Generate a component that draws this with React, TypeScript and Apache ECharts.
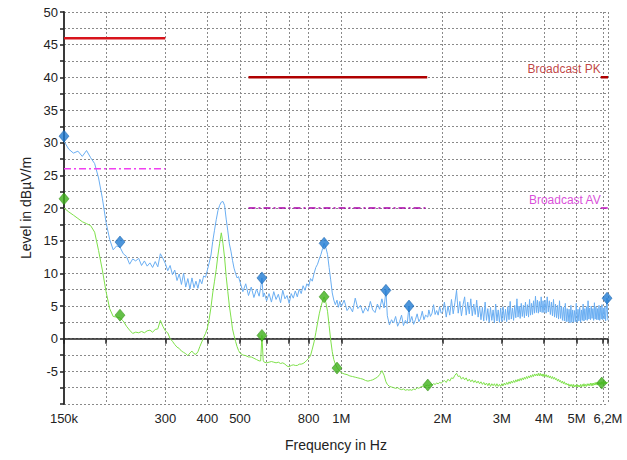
import React, { useEffect, useRef } from 'react';
import * as echarts from 'echarts';

// Frequency axis (kHz)
const tickFreqs = [150, 200, 300, 400, 500, 600, 700, 800, 1000, 2000, 3000, 4000, 5000, 6000, 6200];
const labelFreqs = [150, 300, 400, 500, 800, 1000, 2000, 3000, 4000, 5000, 6200];
const labelTexts = ['150k', '300', '400', '500', '800', '1M', '2M', '3M', '4M', '5M', '6,2M'];

// Scan: [frequency kHz, peak dBµV/m, average dBµV/m]
const scanLW = [
  [150, 30.2, 20.0], [155, 29.0, 19.4], [160, 28.4, 18.9], [165, 28.7, 18.4], [170, 27.9, 17.9],
  [175, 28.8, 17.6], [180, 27.7, 17.3], [185, 26.8, 16.3], [190, 24.6, 13.5], [195, 21.5, 10.5],
  [200, 17.8, 7.2], [205, 15.2, 4.6], [210, 13.6, 3.4], [215, 14.2, 3.3], [220, 14.0, 3.2],
  [225, 13.0, 2.7], [230, 12.6, 1.9], [235, 11.4, 1.3], [240, 12.2, 0.8], [245, 11.9, 1.0],
  [250, 12.3, 0.9], [255, 11.2, 1.1], [260, 11.9, 0.9], [265, 11.1, 1.2], [270, 11.6, 1.3],
  [275, 10.9, 1.0], [280, 11.8, 1.4], [285, 11.0, 1.5], [290, 13.0, 2.8], [295, 12.3, 1.9],
  [300, 11.5, 1.2], [305, 10.4, 0.9], [310, 11.2, 0.0], [315, 9.8, -0.4], [320, 10.5, -0.9],
  [325, 8.9, -1.3], [330, 9.9, -1.5], [335, 8.3, -1.9], [340, 10.0, -2.1], [345, 7.9, -2.3],
  [350, 9.2, -2.6], [355, 7.6, -2.2], [360, 9.3, -1.9], [365, 7.8, -2.3], [370, 8.8, -2.4],
  [375, 7.7, -2.0], [380, 9.1, -1.2], [385, 8.4, -0.5], [390, 9.6, 0.2], [395, 9.4, 0.8],
  [400, 10.5, 1.6], [405, 11.6, 3.0], [410, 12.8, 4.8], [415, 14.9, 7.0], [420, 16.6, 8.8],
  [425, 18.2, 10.6], [430, 19.6, 12.8], [435, 20.4, 14.6], [440, 20.9, 16.2], [445, 21.0, 14.6],
  [450, 20.4, 12.4], [455, 18.3, 9.5], [460, 16.5, 7.2], [465, 14.5, 5.0], [470, 13.4, 3.3],
  [475, 12.0, 1.5], [480, 10.8, 0.5], [485, 10.0, -0.4], [490, 9.3, -1.2], [495, 9.5, -1.8]
];

const scanMW = [
  [500, 8.7, -2.2], [510, 7.2, -2.5], [520, 8.4, -2.6], [530, 6.6, -2.8], [540, 7.9, -2.8],
  [550, 6.3, -3.0], [560, 7.6, -3.2], [570, 6.5, -3.4], [576, 7.8, -3.4], [581, 9.3, 0.5],
  [586, 6.4, -3.3], [590, 7.0, -3.6], [600, 5.8, -3.7], [610, 6.9, -3.6], [620, 5.6, -3.5],
  [630, 7.2, -3.6], [640, 6.0, -3.7], [650, 6.8, -3.6], [660, 5.5, -3.8], [670, 7.4, -3.7],
  [680, 6.1, -3.9], [690, 6.6, -4.2], [700, 5.4, -4.3], [710, 6.9, -4.1], [720, 6.2, -4.0],
  [730, 7.3, -4.1], [740, 6.4, -4.1], [750, 7.6, -3.9], [760, 6.9, -3.9], [770, 8.1, -3.8],
  [780, 7.4, -3.6], [790, 8.4, -3.3], [800, 8.0, -3.0], [810, 9.2, -2.6], [820, 8.8, -1.6],
  [830, 10.0, -0.5], [840, 10.9, 0.9], [850, 11.4, 2.4], [860, 12.2, 3.8], [870, 12.9, 4.9],
  [880, 13.8, 5.8], [889, 14.6, 6.4], [895, 14.2, 6.0], [900, 13.9, 5.5], [910, 12.9, 4.2],
  [920, 10.9, 2.0], [930, 9.0, -0.2], [940, 7.0, -2.0], [950, 5.9, -3.2], [960, 5.2, -3.9],
  [971, 5.9, -4.4], [980, 4.8, -4.7], [990, 5.7, -5.0]
];

const scanHF1 = [
  [1000, 4.9, -5.2], [1020, 5.9, -5.4], [1040, 4.3, -5.5], [1060, 4.9, -5.7], [1080, 4.1, -5.8],
  [1100, 6.2, -5.9], [1120, 4.6, -6.0], [1140, 5.1, -6.1], [1160, 3.9, -6.2], [1180, 4.8, -6.4],
  [1200, 4.2, -6.5], [1220, 5.7, -6.4], [1240, 4.4, -6.3], [1260, 4.0, -6.1], [1280, 5.3, -5.9],
  [1300, 4.5, -5.5], [1320, 6.1, -4.9], [1340, 4.7, -5.6], [1357, 7.4, -6.6], [1370, 3.5, -7.0],
  [1390, 2.1, -7.3], [1410, 2.9, -7.4], [1430, 2.4, -7.5], [1450, 3.4, -7.6], [1470, 1.9, -7.5],
  [1490, 2.6, -7.7], [1510, 3.6, -7.8], [1530, 2.0, -7.7], [1550, 2.8, -7.9], [1570, 2.3, -7.8],
  [1589, 5.0, -7.9], [1600, 2.5, -7.8], [1620, 3.4, -7.9], [1640, 2.2, -7.7], [1660, 2.9, -7.8],
  [1680, 3.8, -7.5], [1700, 2.6, -7.6], [1720, 3.1, -7.4], [1740, 4.2, -7.3], [1760, 2.9, -7.4],
  [1780, 3.6, -7.2], [1807, 3.3, -7.1], [1820, 4.4, -7.2], [1840, 3.4, -7.0], [1860, 3.9, -7.1],
  [1880, 5.2, -6.9], [1900, 3.7, -7.0], [1920, 4.3, -6.8], [1940, 3.6, -6.9], [1960, 4.9, -6.7],
  [1980, 3.9, -6.8]
];

const scanHF2 = [
  [2000, 4.1, -6.6], [2025, 5.6, -6.4], [2050, 3.3, -6.7], [2075, 5.0, -6.2], [2100, 3.6, -6.5],
  [2125, 6.0, -6.0], [2150, 3.8, -6.1], [2175, 5.5, -5.6], [2200, 7.4, -5.3], [2225, 3.9, -5.8],
  [2250, 5.7, -5.7], [2275, 3.5, -6.2], [2300, 5.2, -5.9], [2325, 6.4, -6.3], [2350, 3.6, -6.0],
  [2375, 5.6, -6.5], [2400, 3.8, -6.2], [2425, 6.1, -6.6], [2450, 3.5, -6.3], [2475, 5.3, -6.7],
  [2500, 3.7, -6.4], [2525, 5.9, -6.8], [2550, 3.3, -6.5], [2575, 5.0, -6.9], [2600, 2.9, -6.6],
  [2625, 4.8, -7.0], [2650, 2.7, -6.7], [2675, 5.6, -7.1], [2700, 2.8, -6.8], [2725, 4.6, -7.2],
  [2750, 2.5, -6.8], [2775, 4.8, -7.3], [2800, 2.8, -6.9], [2825, 4.4, -7.2], [2850, 2.4, -6.9],
  [2875, 5.3, -7.3], [2900, 2.7, -6.9], [2925, 4.4, -7.3], [2950, 2.5, -7.0], [2975, 4.7, -7.3],
  [3000, 2.6, -6.9], [3025, 4.9, -7.2], [3050, 2.8, -6.8], [3075, 4.5, -7.1], [3100, 2.6, -6.7],
  [3125, 4.9, -7.0], [3150, 2.9, -6.6], [3175, 5.7, -6.9], [3200, 3.0, -6.5], [3225, 4.7, -6.8],
  [3250, 2.8, -6.4], [3275, 5.1, -6.7], [3300, 3.2, -6.3], [3325, 6.1, -6.6], [3350, 3.3, -6.2],
  [3375, 5.0, -6.5], [3400, 3.1, -6.1], [3425, 5.4, -6.4], [3450, 3.4, -6.0], [3475, 5.1, -6.3],
  [3500, 3.2, -5.9], [3525, 5.6, -6.2], [3550, 3.5, -5.8], [3575, 5.2, -6.1], [3600, 3.3, -5.7],
  [3625, 6.0, -6.0], [3650, 3.6, -5.6], [3675, 5.4, -5.9], [3700, 3.7, -5.5], [3725, 5.8, -5.8],
  [3750, 3.9, -5.4], [3775, 6.5, -5.7], [3800, 4.0, -5.4], [3825, 5.9, -5.7], [3850, 3.9, -5.3],
  [3875, 5.7, -5.7], [3900, 4.1, -5.3], [3925, 6.4, -5.7], [3950, 4.0, -5.4], [3975, 5.8, -5.8]
];

const scanHF3 = [
  [4000, 4.0, -5.4], [4030, 5.9, -5.8], [4060, 3.9, -5.5], [4090, 6.4, -5.9], [4120, 4.1, -5.6],
  [4150, 5.8, -6.0], [4180, 3.7, -5.7], [4210, 5.6, -6.1], [4240, 3.5, -5.8], [4270, 6.0, -6.2],
  [4300, 3.3, -5.9], [4330, 5.3, -6.3], [4360, 3.2, -6.1], [4390, 5.1, -6.5], [4420, 3.0, -6.2],
  [4450, 5.8, -6.6], [4480, 3.1, -6.4], [4510, 5.0, -6.8], [4540, 2.8, -6.5], [4570, 4.8, -6.9],
  [4600, 2.7, -6.6], [4630, 5.4, -7.0], [4660, 2.6, -6.8], [4690, 4.6, -7.1], [4720, 2.6, -6.9],
  [4750, 4.5, -7.3], [4780, 2.4, -7.0], [4810, 5.1, -7.3], [4840, 2.5, -7.0], [4870, 4.4, -7.4],
  [4900, 2.5, -7.0], [4930, 4.3, -7.4], [4960, 2.6, -7.1], [4990, 5.4, -7.4], [5020, 2.5, -7.0],
  [5050, 4.5, -7.4], [5080, 2.7, -7.1], [5110, 4.8, -7.4], [5140, 2.5, -7.0], [5170, 4.4, -7.4],
  [5200, 2.8, -7.0], [5230, 5.3, -7.3], [5260, 2.7, -6.9], [5290, 4.6, -7.3], [5320, 2.9, -7.0],
  [5350, 4.9, -7.3], [5380, 2.8, -6.9], [5410, 5.8, -7.2], [5440, 3.0, -6.9], [5470, 4.7, -7.2],
  [5500, 2.9, -6.8], [5530, 5.0, -7.2], [5560, 3.1, -6.8], [5590, 4.6, -7.2], [5620, 2.8, -6.8],
  [5650, 5.5, -7.1], [5680, 3.0, -6.7], [5710, 4.9, -7.1], [5740, 2.9, -6.7], [5770, 4.6, -7.1],
  [5800, 2.9, -6.7], [5830, 5.1, -7.0], [5860, 2.8, -6.7], [5890, 4.8, -7.0], [5920, 3.0, -6.6],
  [5950, 5.2, -7.0], [5980, 2.9, -6.6], [6010, 4.7, -6.9], [6040, 3.0, -6.6], [6070, 4.9, -6.9],
  [6100, 2.7, -6.6], [6130, 4.5, -6.9], [6160, 6.2, -6.7], [6185, 3.2, -6.8], [6200, 2.8, -6.6]
];

// Final result markers: [kHz, dBµV/m]
const peakMarkers = [[150, 31.0], [220, 14.8], [581, 9.3], [889, 14.6], [1357, 7.4], [1589, 5.0], [6160, 6.2]];
const avgMarkers = [[150, 21.4], [220, 3.6], [581, 0.5], [889, 6.4], [971, -4.5], [1807, -7.1], [5940, -6.8]];

// Limit lines (broadcast bands LW, MW, SW)
const limitBands = [[150, 300], [530, 1800], [5900, 6200]];
const limitPK = [46, 40, 40];
const limitAV = [26, 20, 20];
const limitPKColors = ['#d8141c', '#b00000', '#b00000'];
const limitAVColors = ['#f040f0', '#a800a8', '#c010c0'];
const limitNames = ['Broadcast PK', 'Broadcast AV'];

const FONT = '"Liberation Sans", Arial, sans-serif';

export default function App() {
  const ref = useRef<HTMLDivElement>(null);
  useEffect(() => {
    const chart = echarts.init(ref.current as HTMLDivElement, null, { renderer: 'svg' });
    const scan = [...scanLW, ...scanMW, ...scanHF1, ...scanHF2, ...scanHF3];
    const peakLine = scan.map((r) => [r[0], r[1]]);
    const avgLine = scan.map((r) => [r[0], r[2]]);

    const gridStyle = { color: '#8a8a8a', type: [2, 2], width: 1 };

    const limitSeries: any[] = [];
    limitBands.forEach((b, i) => {
      limitSeries.push({
        type: 'line',
        data: [[b[0], limitPK[i]], [b[1], limitPK[i]]],
        showSymbol: false,
        silent: true,
        z: 4,
        lineStyle: { color: limitPKColors[i], width: 2.5 },
      });
      limitSeries.push({
        type: 'line',
        data: [[b[0], limitAV[i]], [b[1], limitAV[i]]],
        showSymbol: false,
        silent: true,
        z: 4,
        lineStyle: { color: limitAVColors[i], width: 1.5, type: [7, 3, 2, 3] },
      });
    });

    const last = limitBands.length - 1;
    const nameLabels = [
      { value: [limitBands[last][0], limitPK[last]], color: '#b01010', name: limitNames[0] },
      { value: [limitBands[last][0], limitAV[last]], color: '#d020d0', name: limitNames[1] },
    ];

    const labelFor = (v: number) => {
      for (let i = 0; i < labelFreqs.length; i++) {
        if (Math.abs(Math.log10(v / labelFreqs[i])) < 1e-3) return labelTexts[i];
      }
      return '';
    };

    chart.setOption({
      animation: false,
      backgroundColor: '#ffffff',
      grid: { left: 64, right: 19, top: 12, bottom: 56, containLabel: false },
      xAxis: {
        type: 'log',
        logBase: 10,
        min: 150,
        max: 6200,
        name: 'Frequency in Hz',
        nameLocation: 'middle',
        nameGap: 34,
        nameTextStyle: { fontFamily: FONT, fontSize: 14, color: '#222' },
        axisLine: { show: true, lineStyle: { color: '#222', width: 1.5 } },
        axisTick: { show: true, length: 5, customValues: tickFreqs, lineStyle: { color: '#222', width: 1.5 } },
        axisLabel: {
          show: true,
          customValues: labelFreqs,
          formatter: (v: number) => labelFor(v),
          fontFamily: FONT,
          fontSize: 13,
          color: '#222',
          margin: 8,
        },
        splitLine: { show: true, lineStyle: gridStyle },
        minorTick: { show: false },
        minorSplitLine: { show: false },
      },
      yAxis: {
        type: 'value',
        min: -10,
        max: 50,
        interval: 2.5,
        name: 'Level in dBµV/m',
        nameLocation: 'middle',
        nameGap: 30,
        nameRotate: 90,
        nameTextStyle: { fontFamily: FONT, fontSize: 14, color: '#222' },
        axisLine: { show: true, lineStyle: { color: '#3a3a3a', width: 2 } },
        axisTick: { show: true, length: 4, lineStyle: { color: '#222', width: 1.5 } },
        axisLabel: {
          formatter: (v: number) => (v % 5 === 0 && v > -10 ? String(v) : ''),
          fontFamily: FONT,
          fontSize: 13,
          color: '#222',
          margin: 6,
        },
        splitLine: { show: true, lineStyle: gridStyle },
      },
      series: [
        {
          type: 'line',
          data: avgLine,
          showSymbol: false,
          silent: true,
          z: 2,
          lineStyle: { color: '#7ee04a', width: 1 },
        },
        {
          type: 'line',
          data: peakLine,
          showSymbol: false,
          silent: true,
          z: 3,
          lineStyle: { color: '#6aaef2', width: 1 },
        },
        ...limitSeries,
        {
          type: 'scatter',
          data: peakMarkers,
          symbol: 'diamond',
          symbolSize: [10, 12],
          z: 6,
          clip: false,
          itemStyle: { color: '#1f7ad2', borderColor: '#0e5aa6', borderWidth: 0.6 },
        },
        {
          type: 'scatter',
          data: avgMarkers,
          symbol: 'diamond',
          symbolSize: [10, 12],
          z: 6,
          clip: false,
          itemStyle: { color: '#3fb01a', borderColor: '#2a880c', borderWidth: 0.6 },
        },
        {
          type: 'scatter',
          symbolSize: 1,
          z: 7,
          clip: false,
          itemStyle: { color: 'transparent' },
          data: nameLabels.map((n) => ({
            value: n.value,
            label: {
              show: true,
              formatter: n.name,
              position: 'top',
              align: 'right',
              distance: 2,
              color: n.color,
              fontFamily: FONT,
              fontSize: 12,
            },
          })),
        },
      ],
    });
    return () => chart.dispose();
  }, []);

  return (
    <div
      ref={ref}
      style={{ position: 'fixed', left: 0, top: 0, width: 627, height: 460, background: '#fff' }}
    />
  );
}
